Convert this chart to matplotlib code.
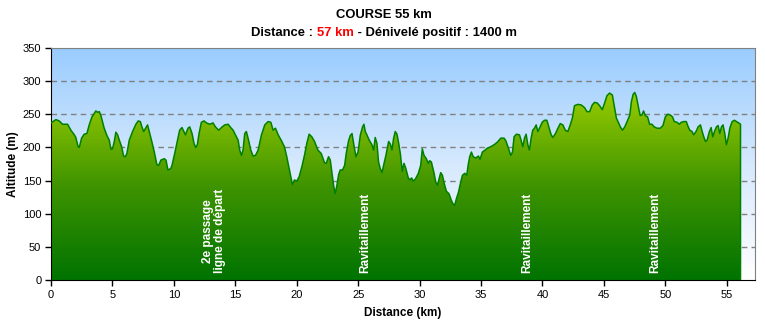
import numpy as np
import matplotlib
matplotlib.use("Agg")
import matplotlib.pyplot as plt
from matplotlib.colors import LinearSegmentedColormap

plt.rcParams['font.family'] = ['Liberation Sans', 'DejaVu Sans']

# profile (km, m)
distance_km = [0.0, 0.4, 0.67, 0.94, 1.35, 1.62, 1.9, 2.02, 2.21, 2.3, 2.49, 2.7, 2.92, 3.11, 3.33,
               3.65, 3.79, 3.93, 4.06, 4.33, 4.55, 4.74, 4.88, 5.01, 5.15, 5.28, 5.42, 5.56, 5.75,
               5.91, 6.05, 6.18, 6.37, 6.64, 6.91, 7.1, 7.27, 7.4, 7.54, 7.73, 7.86, 8.0, 8.19, 8.41,
               8.62, 8.76, 8.95, 9.22, 9.36,
               9.52, 9.74, 9.85, 10.07, 10.28, 10.47, 10.66, 10.94, 11.15, 11.29, 11.48, 11.64,
               11.78, 11.91, 12.05, 12.24, 12.46, 12.65, 12.92, 13.19, 13.38, 13.65, 13.87, 14.14,
               14.41, 14.63, 14.82, 15.01, 15.23, 15.36, 15.5, 15.63, 15.77, 15.9, 16.04, 16.26,
               16.45, 16.64, 16.86, 17.13, 17.4, 17.67, 17.89, 18.08, 18.27, 18.49, 18.76,
               19.0, 19.19, 19.33, 19.55, 19.65, 19.82, 20.0, 20.2, 20.42, 20.63, 20.82, 21.01,
               21.23, 21.45, 21.72, 21.99, 22.26, 22.4, 22.59, 22.73, 22.86, 23.0, 23.13, 23.27,
               23.41, 23.54, 23.73, 23.9, 24.03, 24.22, 24.36, 24.5, 24.63, 24.82, 24.99, 25.18,
               25.36, 25.47, 25.58, 25.71, 25.9, 26.12, 26.26, 26.39, 26.53, 26.66, 26.8, 26.94,
               27.07, 27.26, 27.48, 27.62, 27.75, 27.89, 28.02, 28.16, 28.3, 28.43,
               28.59, 28.73, 28.87, 29.08, 29.22, 29.35, 29.49, 29.68, 29.9, 30.09, 30.22, 30.36,
               30.55, 30.71, 30.82, 30.96, 31.18, 31.31, 31.45, 31.59, 31.72, 31.86, 32.0, 32.18,
               32.4, 32.59, 32.72, 32.86, 33.0, 33.16, 33.35, 33.49, 33.68, 33.84, 33.95, 34.08,
               34.22, 34.36, 34.57, 34.79, 34.92, 35.11, 35.33, 35.52, 35.79, 36.06, 36.33, 36.61,
               36.88, 37.02, 37.23, 37.42, 37.56, 37.69, 37.88,
               38.13, 38.26, 38.4, 38.54, 38.67, 38.81, 38.94, 39.08, 39.21, 39.35, 39.49, 39.62,
               39.76, 39.98, 40.17, 40.36, 40.52, 40.71, 40.85, 41.06, 41.26, 41.45, 41.66, 41.86,
               42.07, 42.26, 42.43, 42.61, 42.88, 43.16, 43.43, 43.62, 43.84, 44.05, 44.24, 44.46,
               44.65, 44.87, 45.06, 45.25, 45.47, 45.69, 45.88, 46.02, 46.15, 46.34, 46.51, 46.7,
               46.89, 47.11, 47.24, 47.38, 47.51,
               47.64, 47.83, 47.96, 48.1, 48.23, 48.37, 48.56, 48.72, 48.91, 49.1, 49.32, 49.59,
               49.81, 50.0, 50.19, 50.4, 50.59, 50.73, 50.95, 51.14, 51.31, 51.5, 51.71, 51.82,
               51.99, 52.18, 52.31, 52.5, 52.67, 52.86, 53.0, 53.13, 53.27, 53.4, 53.59, 53.73,
               53.86, 54.0, 54.16, 54.3, 54.43, 54.57, 54.7, 54.84, 54.97, 55.11, 55.25, 55.44,
               55.63, 55.79, 55.98, 56.12]
altitude_m = [237, 242, 240, 235, 235, 226, 219, 215, 201, 200, 214, 220, 221, 234, 246,
              255, 253, 254, 248, 229, 218, 211, 197, 198, 209, 223, 219, 211, 201,
              187, 186, 191, 211, 224, 235, 240, 239, 231, 224, 230, 234, 224, 210, 193,
              174, 173, 181, 183, 181,
              166, 168, 173, 191, 209, 226, 230, 219, 229, 231, 221, 206,
              200, 204, 221, 238, 240, 237, 235, 237, 231, 226, 230, 234,
              235, 230, 226, 219, 211, 196, 188, 196, 221, 224, 214, 196,
              187, 188, 196, 219, 234, 239, 238, 226, 229, 219, 210,
              201, 186, 173, 152, 144, 151, 149, 156, 171, 188, 206, 220,
              216, 209, 196, 191, 177, 176, 186, 181, 163, 143, 130, 143,
              159, 166, 166, 173, 191, 210, 218, 221, 206, 186, 193, 219,
              231, 235, 224, 219, 211, 204, 196, 215, 206, 178, 168, 162,
              173, 188, 209, 205, 196, 214, 224, 220, 206, 191,
              164, 176, 169, 154, 151, 154, 149, 153, 161, 173, 198, 188,
              183, 176, 180, 178, 161, 148, 143, 153, 162, 158, 146, 134,
              130, 120, 115, 113, 123, 132, 148, 158, 161, 158, 173, 186,
              193, 186, 184, 187, 182, 193, 196, 199, 201, 204, 208, 214,
              214, 210, 199, 188, 193, 216, 220,
              219, 211, 201, 214, 220, 204, 196, 214, 226, 229, 234, 224,
              229, 238, 241, 241, 231, 219, 215, 221, 229, 236, 234, 226,
              224, 234, 244, 263, 265, 264, 260, 254, 254, 264, 268, 267,
              263, 257, 267, 278, 282, 279, 259, 244, 239, 231, 226, 231,
              239, 249, 269, 280, 283,
              277, 259, 248, 249, 255, 248, 246, 235, 235, 231, 229, 229,
              233, 246, 250, 249, 246, 239, 238, 235, 238, 239, 239, 233,
              226, 224, 219, 224, 231, 234, 224, 216, 209, 211, 224, 230,
              216, 224, 231, 233, 221, 231, 234, 221, 204, 214, 229, 239,
              241, 239, 237, 235]

label_km = [13.3, 25.6, 38.8, 49.2]
label_text = ["2e passage\nligne de départ", "Ravitaillement", "Ravitaillement", "Ravitaillement"]

x_ticks = list(range(0, 60, 5))
y_ticks = list(range(0, 400, 50))
x_max = 57.3
y_max = 350

fig = plt.figure(figsize=(7.65, 3.25), dpi=100)
ax = fig.add_axes([51 / 765, 45 / 325, 704 / 765, 232 / 325])
ax.set_xlim(0, x_max)
ax.set_ylim(0, y_max)

# sky background
sky = LinearSegmentedColormap.from_list("sky", ["#ffffff", "#d6e9fd", "#99ccff"])
ax.imshow(np.linspace(0, 1, 256).reshape(-1, 1), cmap=sky, origin="lower",
          extent=[0, x_max, 0, y_max], aspect="auto", zorder=0)

for yv in y_ticks[1:-1]:
    ax.axhline(yv, color="#808080", lw=1, ls=(0, (4, 3)), zorder=1)

# terrain with gradient
x = np.array(distance_km)
y = np.array(altitude_m)
poly = ax.fill_between(x, 0, y, color="none", lw=0, zorder=2)
grass = LinearSegmentedColormap.from_list("grass", ["#007300", "#3f9400", "#99cc00"])
grad = np.clip(np.linspace(0, y_max, 400) / 285.0, 0, 1).reshape(-1, 1)
img = ax.imshow(grad, cmap=grass, origin="lower", extent=[0, x_max, 0, y_max],
                aspect="auto", zorder=2, vmin=0, vmax=1)
img.set_clip_path(poly.get_paths()[0], transform=ax.transData)
ax.plot(np.r_[x, x[-1]], np.r_[y, 0], color="#008000", lw=1.1, zorder=3)

for km, txt in zip(label_km, label_text):
    ax.text(km, 10, txt, rotation=90, color="white", fontsize=8.5, fontweight="bold",
            ha="center", va="bottom", multialignment="center", linespacing=1.0, zorder=4)

ax.set_xticks(x_ticks)
ax.set_yticks(y_ticks)
ax.tick_params(direction="out", length=4, width=1, labelsize=8, pad=3)
for s in ["left", "bottom"]:
    ax.spines[s].set_color("black")
for s in ["top", "right"]:
    ax.spines[s].set_color("#808080")
ax.set_xlabel("Distance (km)", fontsize=8.5, fontweight="bold", labelpad=5)
ax.set_ylabel("Altitude (m)", fontsize=8.5, fontweight="bold", labelpad=3)

# title, second line with red distance
fig.text(0.502, 0.954, "COURSE 55 km", ha="center", va="center", fontsize=9.4, fontweight="bold")
r = fig.canvas.get_renderer()
parts = [("Distance : ", "black"), ("57 km", "red"), (" - Dénivelé positif : 1400 m", "black")]
texts = [fig.text(0, 0.898, p, fontsize=9.4, fontweight="bold", color=c, va="center") for p, c in parts]
widths = [t.get_window_extent(r).width for t in texts]
xpos = 0.502 * fig.bbox.width - sum(widths) / 2
for t, w in zip(texts, widths):
    t.set_x(xpos / fig.bbox.width)
    xpos += w

fig.savefig("out.png", dpi=100)
